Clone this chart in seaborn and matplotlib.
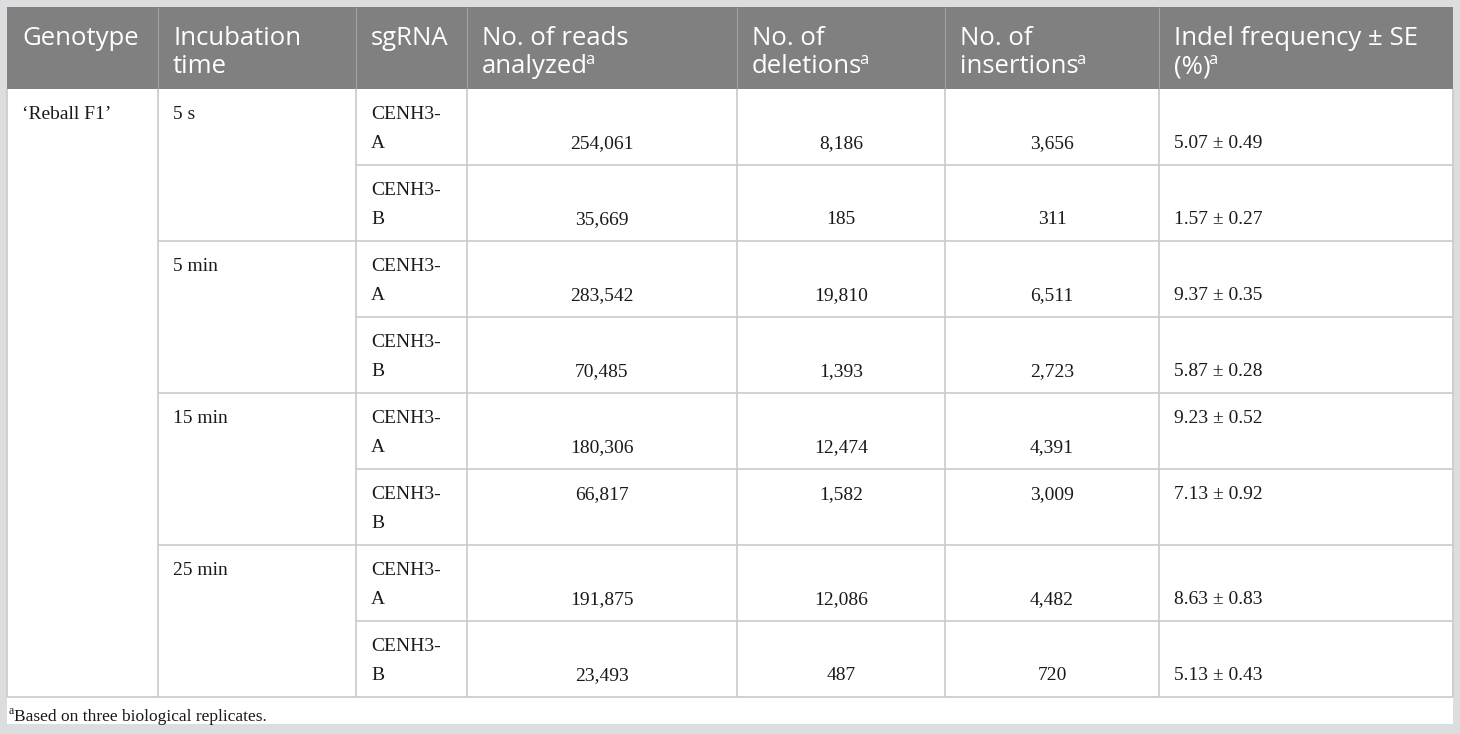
import numpy as np
import pandas as pd
import matplotlib
matplotlib.use('Agg')
import matplotlib.pyplot as plt
import seaborn as sns

# TABLE CONTENT
header_line1 = ['Genotype', 'Incubation', 'sgRNA', 'No. of reads', 'No. of', 'No. of', 'Indel frequency \u00b1 SE']
header_line2 = ['', 'time', '', 'analyzed', 'deletions', 'insertions', '(%)']
header_sup = [False, False, False, True, True, True, True]

genotype = ["\u2018Reball F1\u2019"]
incubation = ['5 s', '5 min', '15 min', '25 min']
sgrna = ['A', 'B', 'A', 'B', 'A', 'B', 'A', 'B']
reads = ['254,061', '35,669', '283,542', '70,485', '180,306', '66,817', '191,875', '23,493']
deletions = ['8,186', '185', '19,810', '1,393', '12,474', '1,582', '12,086', '487']
insertions = ['3,656', '311', '6,511', '2,723', '4,391', '3,009', '4,482', '720']
indel = ['5.07 \u00b1 0.49', '1.57 \u00b1 0.27', '9.37 \u00b1 0.35', '5.87 \u00b1 0.28',
         '9.23 \u00b1 0.52', '7.13 \u00b1 0.92', '8.63 \u00b1 0.83', '5.13 \u00b1 0.43']
footnote = 'Based on three biological replicates.'

df = pd.DataFrame({'reads': reads, 'deletions': deletions,
                   'insertions': insertions, 'indel': indel})

# layout (pixels)
col_x = [7, 158, 356, 467, 737, 945, 1159, 1453]
head_top, head_bot = 7, 89
row_h = 76
n_rows = len(sgrna)
table_bot = head_bot + n_rows * row_h
pad = 15
line1, line2 = 30, 59
# which text line each value cell sits on (2 = lower line), exceptions below
cell_line = {(4, 'indel'): 1, (5, 'reads'): 1, (5, 'deletions'): 1,
             (5, 'insertions'): 1, (5, 'indel'): 1}

head_font = ['Open Sans', 'DejaVu Sans']
body_font = ['Liberation Serif', 'DejaVu Serif']
bg = '#dcdddf'
head_bg = '#808080'
grid_c = '#c9c9c9'
txt_c = '#1a1a1a'

sns.set_style('white')
fig = plt.figure(figsize=(14.6, 7.34), dpi=100)
fig.patch.set_facecolor(bg)
ax = fig.add_axes([0, 0, 1, 1])
ax.set_xlim(0, 1460)
ax.set_ylim(734, 0)
ax.axis('off')

# backgrounds
ax.fill_between([col_x[0], col_x[-1]], head_top, head_bot, color=head_bg, lw=0)
ax.fill_between([col_x[0], col_x[-1]], head_bot, table_bot, color='white', lw=0)
ax.fill_between([col_x[0], col_x[-1]], table_bot, 724, color='white', lw=0)

# header text
for i in range(len(header_line1)):
    x = col_x[i] + pad
    t1 = ax.text(x, head_top + 38, header_line1[i], color='white', fontsize=18.5,
                 family=head_font, va='baseline', ha='left')
    last = t1
    if header_line2[i]:
        last = ax.text(x, head_top + 66, header_line2[i], color='white', fontsize=18.5,
                       family=head_font, va='baseline', ha='left')
    if header_sup[i]:
        ax.annotate('a', xy=(1, 0), xycoords=last, xytext=(-1.8, 10.5),
                    textcoords='offset points', color='white', fontsize=12,
                    family=head_font, va='baseline', ha='left')

# grid lines
row_edges = head_bot + row_h * np.arange(n_rows + 1)
ax.vlines(col_x[1:-1], head_top, head_bot, color='#a3a3a3', lw=0.8)
ax.vlines(col_x[1:-1], head_bot, table_bot, color=grid_c, lw=1.2)
# horizontal lines: sgRNA and value columns every row, incubation every 2 rows
ax.hlines(row_edges[1:-1], col_x[2], col_x[-1], color=grid_c, lw=1.2)
ax.hlines(row_edges[2:-1:2], col_x[1], col_x[2], color=grid_c, lw=1.2)
ax.hlines(table_bot, col_x[0], col_x[-1], color=grid_c, lw=1.2)
ax.vlines([col_x[0], col_x[-1]], head_bot, table_bot, color=grid_c, lw=1.2)

body_kw = dict(fontsize=14, family=body_font, color=txt_c, va='baseline')

# genotype and incubation
ax.text(col_x[0] + pad, head_bot + line1, genotype[0], ha='left', **body_kw)
for k, lab in enumerate(incubation):
    ax.text(col_x[1] + pad, row_edges[2 * k] + line1, lab, ha='left', **body_kw)

# rows
cols = ['reads', 'deletions', 'insertions', 'indel']
for r in range(n_rows):
    top = row_edges[r]
    ax.text(col_x[2] + pad, top + line1, 'CENH3-', ha='left', **body_kw)
    ax.text(col_x[2] + pad, top + line2, sgrna[r], ha='left', **body_kw)
    for j, c in enumerate(cols):
        ln = cell_line.get((r, c), 2)
        y = top + (line1 if ln == 1 else line2)
        ci = 3 + j
        if c == 'indel':
            ax.text(col_x[ci] + pad, y, df.loc[r, c], ha='left', **body_kw)
        else:
            ax.text((col_x[ci] + col_x[ci + 1]) / 2, y, df.loc[r, c], ha='center', **body_kw)

# footnote
ax.text(9, 714, 'a', fontsize=8.5, family=body_font, color=txt_c, va='baseline', ha='left')
ax.text(14, 721, footnote, fontsize=12.5, family=body_font, color=txt_c,
        va='baseline', ha='left')

fig.savefig('out.png', dpi=100, facecolor=bg)
